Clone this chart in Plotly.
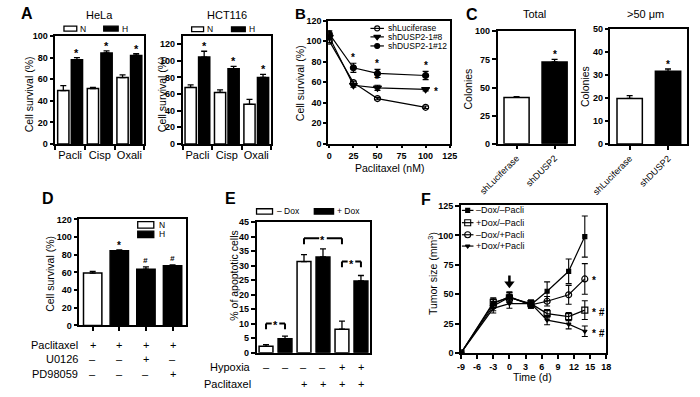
import plotly.graph_objects as go

W, H = 700, 397
FONT = "Liberation Sans, Arial, Helvetica, sans-serif"

# ---------------- data ----------------
a_cats = ["Pacli", "Cisp", "Oxali"]
hela_n = [49.5, 51.3, 61.5]
hela_n_err = [4.5, 1.2, 2.5]
hela_h = [78.0, 84.3, 82.0]
hela_h_err = [2.0, 1.8, 1.5]
hct_n = [68.0, 62.0, 47.6]
hct_n_err = [3.0, 3.0, 6.0]
hct_h = [104.5, 90.6, 80.0]
hct_h_err = [7.0, 2.7, 3.6]

b_dose = [0, 25, 50, 100]
b_luc = [100.0, 59.5, 44.0, 35.5]
b_luc_err = [1.5, 1.5, 1.2, 1.2]
b_kd8 = [104.0, 57.0, 54.5, 53.0]
b_kd8_err = [2.0, 2.0, 2.5, 1.5]
b_kd12 = [107.0, 74.0, 68.5, 66.5]
b_kd12_err = [3.0, 4.5, 4.0, 4.0]
b_names = ["shLuciferase", "shDUSP2-1#8", "shDUSP2-1#12"]

c_cats = ["shLuciferase", "shDUSP2"]
c_total = [41.2, 72.8]
c_total_err = [0.6, 2.2]
c_big = [19.8, 31.6]
c_big_err = [1.2, 1.0]

d_vals = [59.3, 84.5, 63.7, 67.6]
d_err = [1.8, 1.0, 2.5, 0.8]
d_group = ["N", "H", "H", "H"]
d_mark = ["", "*", "#", "#"]
d_rows = ["Paclitaxel", "U0126", "PD98059"]
d_table = [["+", "+", "+", "+"], ["–", "–", "+", "–"], ["–", "–", "–", "+"]]

e_vals = [2.2, 4.8, 31.4, 33.0, 8.1, 24.7]
e_err = [0.6, 0.9, 2.4, 2.8, 2.8, 1.9]
e_dox = ["-", "+", "-", "+", "-", "+"]
e_rows = ["Hypoxia", "Paclitaxel"]
e_table = [["–", "–", "–", "–", "+", "+"], ["", "", "+", "+", "+", "+"]]
e_brackets = [(0, 1, 10.1), (2, 4, 39.4), (4, 5, 31.4)]

f_time = [-9, -3, 0, 4, 7, 11, 14]
f_nn = [0, 42.0, 48.0, 41.0, 52.5, 69.5, 99.0]
f_nn_err = [0, 4.0, 4.0, 3.0, 8.0, 10.5, 17.5]
f_dn = [0, 43.0, 47.0, 42.0, 33.5, 31.0, 36.5]
f_dn_err = [0, 4.0, 4.0, 3.0, 3.5, 3.5, 8.0]
f_np = [0, 40.0, 47.5, 41.0, 44.0, 49.5, 63.0]
f_np_err = [0, 4.0, 4.0, 3.0, 4.0, 8.0, 13.0]
f_dp = [0, 38.0, 42.0, 42.0, 28.0, 24.5, 18.5]
f_dp_err = [0, 4.0, 4.0, 3.0, 4.0, 4.0, 4.5]
f_names = ["–Dox/–Pacli", "+Dox/–Pacli", "–Dox/+Pacli", "+Dox/+Pacli"]
f_xticks = [-9, -6, -3, 0, 3, 6, 9, 12, 15, 18]
f_treat_day = 0
f_arrow_span = [66, 59]


# ---------------- helpers ----------------
def fx(x):
    return x / W


def fy(y):
    return 1 - y / H


def xdom(a, b):
    return [a / W, b / W]


def ydom(top, bottom):
    return [1 - bottom / H, 1 - top / H]


TICKB = dict(family=FONT, size=9, color="black", weight="bold")


def ax_common(**kw):
    d = dict(showline=True, linecolor="black", linewidth=1.5, mirror=True,
             showgrid=False, zeroline=False, ticks="outside", ticklen=4,
             tickwidth=1.5, tickcolor="black", fixedrange=True, tickfont=TICKB)
    d.update(kw)
    return d


fig = go.Figure()
ann = []
shapes = []


def text(x, y, s, size=11, bold=False, xanchor="center", yanchor="middle", angle=0):
    ann.append(dict(x=fx(x), y=fy(y), xref="paper", yref="paper",
                    text=f"<b>{s}</b>" if bold else s, showarrow=False,
                    font=dict(family=FONT, size=size, color="black"),
                    xanchor=xanchor, yanchor=yanchor, textangle=angle))


def mark(xa, ya, x, y, s="*", size=11, yshift=-3, xshift=0, xanchor="center", yanchor="bottom"):
    ann.append(dict(x=x, y=y, xref=xa, yref=ya, text=f"<b>{s}</b>", showarrow=False,
                    font=dict(family=FONT, size=size, color="black"),
                    xanchor=xanchor, yanchor=yanchor, yshift=yshift, xshift=xshift))


def box(x0, x1, y0, y1, fill):
    shapes.append(dict(type="rect", xref="paper", yref="paper", x0=fx(x0), x1=fx(x1),
                       y0=fy(y1), y1=fy(y0), line=dict(color="black", width=1.3),
                       fillcolor=fill, layer="above"))


def errs(arr, up_only=True):
    if up_only:
        return dict(type="data", array=arr, arrayminus=[0] * len(arr), symmetric=False,
                    color="black", thickness=1.3, width=3)
    return dict(type="data", array=arr, color="black", thickness=1.1, width=3)


# ---------------- Panel A ----------------
for (xa, ya, nv, ne, hv, he) in [("x", "y", hela_n, hela_n_err, hela_h, hela_h_err),
                                 ("x2", "y2", hct_n, hct_n_err, hct_h, hct_h_err)]:
    fig.add_trace(go.Bar(x=a_cats, y=nv, width=0.38, offset=-0.42,
                         marker=dict(color="white", line=dict(color="black", width=1.5)),
                         error_y=errs(ne), xaxis=xa, yaxis=ya, showlegend=False))
    fig.add_trace(go.Bar(x=a_cats, y=hv, width=0.38, offset=0.04,
                         marker=dict(color="black", line=dict(color="black", width=1.5)),
                         error_y=errs(he), xaxis=xa, yaxis=ya, showlegend=False))
    for i in range(len(a_cats)):
        mark(xa, ya, i + 0.23, hv[i] + he[i])

# ---------------- Panel B ----------------
b_series = [(b_luc, b_luc_err, "circle-open", 6, "white"),
            (b_kd8, b_kd8_err, "triangle-down", 7, "black"),
            (b_kd12, b_kd12_err, "circle", 6, "black")]
for (vals, er, sym, sz, col), nm in zip(b_series, b_names):
    fig.add_trace(go.Scatter(x=b_dose, y=vals, mode="lines+markers", name=nm,
                             line=dict(color="black", width=1.2),
                             marker=dict(symbol=sym, size=sz, color="black",
                                         line=dict(color="black", width=1.2)),
                             error_y=errs(er, up_only=False), xaxis="x3", yaxis="y3",
                             showlegend=False))
for i in (1, 2, 3):
    mark("x3", "y3", b_dose[i], b_kd12[i] + b_kd12_err[i], size=10, yshift=-2)
mark("x3", "y3", b_dose[2], b_kd8[2] + b_kd8_err[2], size=10, yshift=-2)
mark("x3", "y3", b_dose[3], b_kd8[3], size=10, xshift=6, xanchor="left", yanchor="middle", yshift=-2)

# ---------------- Panel C ----------------
for (xa, ya, vals, er) in [("x4", "y4", c_total, c_total_err), ("x5", "y5", c_big, c_big_err)]:
    fig.add_trace(go.Bar(x=c_cats, y=vals, width=0.66,
                         marker=dict(color=["white", "black"], line=dict(color="black", width=1.5)),
                         error_y=errs(er), xaxis=xa, yaxis=ya, showlegend=False))
    mark(xa, ya, c_cats[1], vals[1] + er[1], size=10)

# ---------------- Panel D ----------------
d_x = list(range(len(d_vals)))
fig.add_trace(go.Bar(x=d_x, y=d_vals, width=0.69,
                     marker=dict(color=["white" if g == "N" else "black" for g in d_group],
                                 line=dict(color="black", width=1.5)),
                     error_y=errs(d_err), xaxis="x6", yaxis="y6", showlegend=False))
for i, m in enumerate(d_mark):
    if m:
        mark("x6", "y6", i, d_vals[i] + d_err[i], s=m if m == "*" else "<i>#</i>",
             size=10 if m == "*" else 8, yshift=-3 if m == "*" else 0)

# ---------------- Panel E ----------------
e_x = list(range(len(e_vals)))
fig.add_trace(go.Bar(x=e_x, y=e_vals, width=0.73,
                     marker=dict(color=["white" if d == "-" else "black" for d in e_dox],
                                 line=dict(color="black", width=1.5)),
                     error_y=errs(e_err), xaxis="x7", yaxis="y7", showlegend=False))
for (i0, i1, yt) in e_brackets:
    xm = (i0 + i1) / 2
    g = 0.2
    leg = 2.0
    for (a, b, c, d) in [(i0, yt - leg, i0, yt), (i0, yt, xm - g, yt),
                         (xm + g, yt, i1, yt), (i1, yt, i1, yt - leg)]:
        shapes.append(dict(type="line", xref="x7", yref="y7", x0=a, y0=b, x1=c, y1=d,
                           line=dict(color="black", width=2)))
    mark("x7", "y7", xm, yt, size=11, yanchor="middle", yshift=-2)

# ---------------- Panel F ----------------
f_series = [(f_nn, f_nn_err, "square", 4), (f_dn, f_dn_err, "square-open", 6),
            (f_np, f_np_err, "circle-open", 6), (f_dp, f_dp_err, "triangle-down", 4)]
for (vals, er, sym, sz), nm in zip(f_series, f_names):
    fig.add_trace(go.Scatter(x=f_time, y=vals, mode="lines+markers", name=nm,
                             line=dict(color="black", width=1.2),
                             marker=dict(symbol=sym, size=sz, color="black",
                                         line=dict(color="black", width=1.2)),
                             error_y=errs(er, up_only=False), xaxis="x8", yaxis="y8",
                             showlegend=False))
mark("x8", "y8", f_time[-1], f_np[-1], s="*", size=10, xshift=5, xanchor="left", yanchor="middle", yshift=-2)
mark("x8", "y8", f_time[-1], f_dn[-1], s="* <i>#</i>", size=10, xshift=5, xanchor="left", yanchor="middle", yshift=-2)
mark("x8", "y8", f_time[-1], f_dp[-1], s="* <i>#</i>", size=10, xshift=5, xanchor="left", yanchor="middle", yshift=-2)
# treatment-start arrow
shapes.append(dict(type="line", xref="x8", yref="y8", x0=f_treat_day, x1=f_treat_day,
                   y0=f_arrow_span[0], y1=f_arrow_span[1], line=dict(color="black", width=2.5)))
fig.add_trace(go.Scatter(x=[f_treat_day], y=[f_arrow_span[1]], mode="markers",
                         marker=dict(symbol="triangle-down", size=9, color="black"),
                         xaxis="x8", yaxis="y8", showlegend=False, hoverinfo="skip"))

# ---------------- custom legends (pixel overlay axes) ----------------
b_rows = [24, 32.7, 42]
for (vals, er, sym, sz, col), ry in zip(b_series, b_rows):
    fig.add_trace(go.Scatter(x=[365, 379], y=[ry, ry], mode="lines", line=dict(color="black", width=1.2),
                             xaxis="x9", yaxis="y9", showlegend=False, hoverinfo="skip"))
    fig.add_trace(go.Scatter(x=[372], y=[ry], mode="markers",
                             marker=dict(symbol=sym, size=sz - 1, color="black", line=dict(color="black", width=1.1)),
                             xaxis="x9", yaxis="y9", showlegend=False, hoverinfo="skip"))
for nm, ry in zip(b_names, b_rows):
    text(381, ry, nm, size=8.5, xanchor="left")

f_rows = [210.7, 223.3, 235.7, 247.3]
for (vals, er, sym, sz), ry in zip(f_series, f_rows):
    fig.add_trace(go.Scatter(x=[460, 472], y=[ry, ry], mode="lines", line=dict(color="black", width=1.2),
                             xaxis="x9", yaxis="y9", showlegend=False, hoverinfo="skip"))
    fig.add_trace(go.Scatter(x=[466], y=[ry], mode="markers",
                             marker=dict(symbol=sym, size=sz, color="black", line=dict(color="black", width=1.1)),
                             xaxis="x9", yaxis="y9", showlegend=False, hoverinfo="skip"))
for nm, ry in zip(f_names, f_rows):
    text(473, ry, nm, size=9, xanchor="left")

# bar legends
box(46.7, 60, 21.7, 26.7, "white"); text(61.5, 24.2, "N", size=8.5, xanchor="left")
box(88, 103, 21.7, 26.7, "black"); text(104.5, 24.2, "H", size=8.5, xanchor="left")
box(179.3, 191.7, 22.5, 27.3, "white"); text(193, 24.9, "N", size=8.5, xanchor="left")
box(220.7, 235, 22.5, 27.3, "black"); text(236.5, 24.9, "H", size=8.5, xanchor="left")
box(123.3, 140, 222.3, 228.8, "white"); text(143, 225.5, "N", size=8.5, xanchor="left")
box(123.3, 140, 232, 238.5, "black"); text(143, 235.2, "H", size=8.5, xanchor="left")
box(246.7, 263.3, 209, 214.5, "white"); text(266, 211.7, "– Dox", size=8.5, xanchor="left")
box(306.7, 326.7, 209, 214.5, "black"); text(328, 211.7, "+ Dox", size=8.5, xanchor="left")

# tables below D and E
d_row_y = [349, 362.7, 378.3]
for lab, ry, vals in zip(d_rows, d_row_y, d_table):
    text(63, ry, lab, size=11, xanchor="right")
    for i, v in enumerate(vals):
        ann.append(dict(x=d_x[i], y=fy(ry), xref="x6", yref="paper", text=v, showarrow=False,
                        font=dict(family=FONT, size=11, color="black"), yanchor="middle"))
e_row_y = [371.7, 388.3]
for lab, ry, vals in zip(e_rows, e_row_y, e_table):
    text(242.7, ry, lab, size=11, xanchor="right")
    for i, v in enumerate(vals):
        if v:
            ann.append(dict(x=e_x[i], y=fy(ry), xref="x7", yref="paper", text=v, showarrow=False,
                            font=dict(family=FONT, size=11, color="black"), yanchor="middle"))

# panel letters and titles
text(8, 9, "A", size=16, bold=True)
text(84, 10, "HeLa", size=11)
text(216, 10, "HCT116", size=11)
text(292, 9, "B", size=15, bold=True)
text(470, 10, "C", size=16, bold=True)
text(535, 9, "Total", size=11)
text(651, 9, ">50 μm", size=11)
text(30, 198, "D", size=16, bold=True)
text(220, 198, "E", size=16, bold=True)
text(423, 200, "F", size=16, bold=True)

# axis titles
text(10, 92, "Cell survival (%)", size=10.5, angle=-90)
text(148, 92, "Cell survival (%)", size=10.5, angle=-90)
text(292, 80, "Cell survival (%)", size=10.5, angle=-90)
text(385, 167, "Paclitaxel (nM)", size=10.5)
text(466, 86, "Colonies", size=10.5, angle=-90)
text(588, 84, "Colonies", size=10.5, angle=-90)
text(32, 276, "Cell survival (%)", size=10.5, angle=-90)
text(223, 278, "% of apoptotic cells", size=10.5, angle=-90)
text(429, 276, "Tumor size (mm<sup>3</sup>)", size=10.5, angle=-90)
text(533, 382, "Time (d)", size=10.5)

# ---------------- axes ----------------
cat_lab = dict(family=FONT, size=11, color="black")
rot_lab = dict(family=FONT, size=9, color="black")
layout = dict(
    xaxis=ax_common(domain=xdom(37.7, 130), anchor="y", type="category", range=[-0.5, 2.5],
                    tickson="boundaries", tickfont=cat_lab, tickangle=0),
    yaxis=ax_common(domain=ydom(31.7, 142.7), anchor="x", range=[0, 100], dtick=20),
    xaxis2=ax_common(domain=xdom(170, 261.7), anchor="y2", type="category", range=[-0.5, 2.5],
                     tickson="boundaries", tickfont=cat_lab, tickangle=0),
    yaxis2=ax_common(domain=ydom(31.7, 142.5), anchor="x2", range=[0, 130], tickvals=[0, 20, 40, 60, 80, 100, 120]),
    xaxis3=ax_common(domain=xdom(321, 448), anchor="y3", range=[-1.3, 125.7], dtick=25, tick0=0,
                     ticklen=3),
    yaxis3=ax_common(domain=ydom(16, 142.3), anchor="x3", range=[0, 120], dtick=20, ticklen=3),
    xaxis4=ax_common(domain=xdom(497, 576), anchor="y4", type="category", range=[-0.5, 1.5],
                     tickangle=-45, tickfont=rot_lab),
    yaxis4=ax_common(domain=ydom(27, 142.3), anchor="x4", range=[0, 100], dtick=25),
    xaxis5=ax_common(domain=xdom(614.3, 694), anchor="y5", type="category", range=[-0.5, 1.5],
                     tickangle=-45, tickfont=rot_lab),
    yaxis5=ax_common(domain=ydom(24.5, 142.7), anchor="x5", range=[0, 50], dtick=10),
    xaxis6=ax_common(domain=xdom(62.7, 173.3), anchor="y6", range=[-0.5, 3.5], tickvals=d_x,
                     showticklabels=False),
    yaxis6=ax_common(domain=ydom(220, 328.7), anchor="x6", range=[0, 120], dtick=20),
    xaxis7=ax_common(domain=xdom(246.7, 365), anchor="y7", range=[-0.5, 5.5], ticks="",
                     showticklabels=False),
    yaxis7=ax_common(domain=ydom(222.7, 356.7), anchor="x7", range=[0, 45], dtick=5),
    xaxis8=ax_common(domain=xdom(459, 610), anchor="y8", range=[-9, 18], tickvals=f_xticks,
                     ticktext=[str(v) for v in f_xticks]),
    yaxis8=ax_common(domain=ydom(205, 357), anchor="x8", range=[0, 126], dtick=25),
    xaxis9=dict(domain=[0, 1], range=[0, W], anchor="y9", visible=False, fixedrange=True),
    yaxis9=dict(domain=[0, 1], range=[H, 0], anchor="x9", visible=False, fixedrange=True),
)
fig.update_layout(**layout)
fig.update_layout(width=W, height=H, margin=dict(l=0, r=0, t=0, b=0),
                  paper_bgcolor="white", plot_bgcolor="rgba(0,0,0,0)",
                  barmode="overlay", showlegend=False,
                  font=dict(family=FONT, color="black"),
                  annotations=ann, shapes=shapes)
fig.write_html("out.html", config={"displayModeBar": False},
               post_script="document.body.style.margin='0px';")
